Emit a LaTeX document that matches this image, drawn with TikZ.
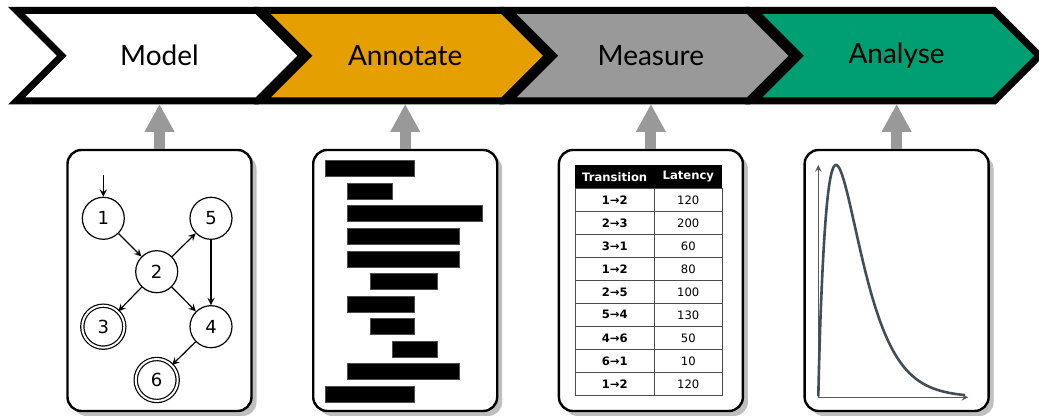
\documentclass[tikz,border=0pt]{standalone}
\usepackage{fontspec}
\setmainfont{Lato}
\newfontfamily\dejavu{DejaVu Sans}
\usepackage{xcolor}
\usepackage{tikz}
\usetikzlibrary{arrows,arrows.meta,shadows,calc}

\definecolor{annotcol}{HTML}{E69F00}
\definecolor{meascol}{HTML}{999999}
\definecolor{analcol}{HTML}{009E73}
\definecolor{curvecol}{HTML}{404E57}

\begin{document}
\begin{tikzpicture}[
    x=0.5pt, y=-0.5pt,
    >=stealth,
    stage/.style = {draw=black, line width=3.5pt, line join=miter},
    stagetext/.style = {font=\fontsize{14}{16}\selectfont},
    up/.style = {draw=black!40, line width=5.5pt, -{Triangle[width=14pt,length=14pt]}},
    box/.style = {draw, line width=1.2pt, rounded corners=7pt, fill=white,
      minimum width=92pt, minimum height=130.5pt,
      drop shadow={shadow xshift=2.5pt, shadow yshift=-2.5pt, fill=black!25, opacity=1}},
    state/.style = {draw, circle, line width=0.6pt, minimum size=21pt, inner sep=0pt,
      font=\dejavu\fontsize{9}{9}\selectfont},
    final/.style = {state, double, double distance=1pt},
    edge/.style = {->, line width=0.6pt},
    bar/.style = {fill=black, draw=black!70, line width=0.3pt},
    cell/.style = {inner sep=0pt, font=\dejavu\fontsize{5.8}{6}\selectfont},
    cellb/.style = {inner sep=0pt, font=\dejavu\bfseries\fontsize{5.8}{6}\selectfont},
    grid/.style = {draw=black!70, line width=0.4pt},
    axis/.style = {->, draw=black!65, line width=0.5pt},
    curve/.style = {draw=curvecol, line width=1.3pt}
  ]
  \useasboundingbox (0,0) rectangle (1039,416);

  % stages, boxes and arrows
  \foreach \i/\nm/\col/\txt in {0/model/white/Model, 1/annotate/annotcol/Annotate,
      2/measure/meascol/Measure, 3/analyse/analcol/Analyse} {
    \pgfmathsetmacro{\L}{16.5+245.7*\i}
    \draw[stage, fill=\col] (\L,10.5) -- ++(240.5,0) -- ++(45.25,45.25) -- ++(-45.25,45.25)
      -- ++(-240.5,0) -- ++(45.25,-45.25) -- cycle;
    \node[stagetext] (\nm) at (\L+143,55.75) {\txt};
    \coordinate (\nm-s) at (\L+143,104);
    \node[box] (\nm-box) at (\L+143,280.5) {};
    \draw[up] (\nm-box.north) -- (\nm-s);
  }

  % model
  \node[state] (n1) at (103.3,218.3) {1};
  \node[state] (n5) at (211,218.3) {5};
  \node[state] (n2) at (156.7,271.7) {2};
  \node[final] (n3) at (103.3,326.7) {3};
  \node[state] (n4) at (211,326.7) {4};
  \node[final] (n6) at (156.7,380) {6};
  \coordinate (init) at (103.3,175);
  \draw[edge] (init) -- (n1);
  \draw[edge] (n1) -- (n2);
  \draw[edge] (n2) -- (n5);
  \draw[edge] (n5) -- (n4);
  \draw[edge] (n2) -- (n3);
  \draw[edge] (n2) -- (n4);
  \draw[edge] (n4) -- (n6);

  % annotate
  \foreach \a/\b [count=\i from 0] in {0/4,1/3,1/7,1/6,1/6,2/5,1/4,2/4,3/5,1/6,0/4}
    \draw[bar] (325+22.4*\a,160.7+22.53*\i) rectangle (325+22.4*\b,176.7+22.53*\i);

  % measure
  \fill (575,165) rectangle (722.3,188.3);
  \node[cellb, text=white] (th1) at (614.7,176.7) {Transition};
  \node[cellb, text=white] (th2) at (688.3,176.7) {Latency};
  \foreach \a/\b/\v [count=\r from 0] in {1/2/120, 2/3/200, 3/1/60, 1/2/80, 2/5/100,
      5/4/130, 4/6/50, 6/1/10, 1/2/120} {
    \draw[grid] (575,188.3+23*\r) rectangle (722.3,211.3+23*\r);
    \node[cellb] (t\r) at (614.7,199.8+23*\r) {\a→\b};
    \node[cell] (l\r) at (688.3,199.8+23*\r) {\v};
  }
  \draw[grid] (654.3,188.3) -- (654.3,395.3);

  % analyse
  \coordinate (o) at (818.3,397.3);
  \coordinate (ytop) at (818.3,165);
  \coordinate (xend) at (968.3,397.3);
  \draw[axis] (o) -- (ytop);
  \draw[axis] (o) -- (xend);
  \draw[curve] plot[domain=0.0001:0.98, samples=200, smooth]
    ({818.3+150*\x},{397.3-232.3*pow(\x/0.118,0.9)*exp(-0.9*(\x/0.118-1))});
\end{tikzpicture}
\end{document}
